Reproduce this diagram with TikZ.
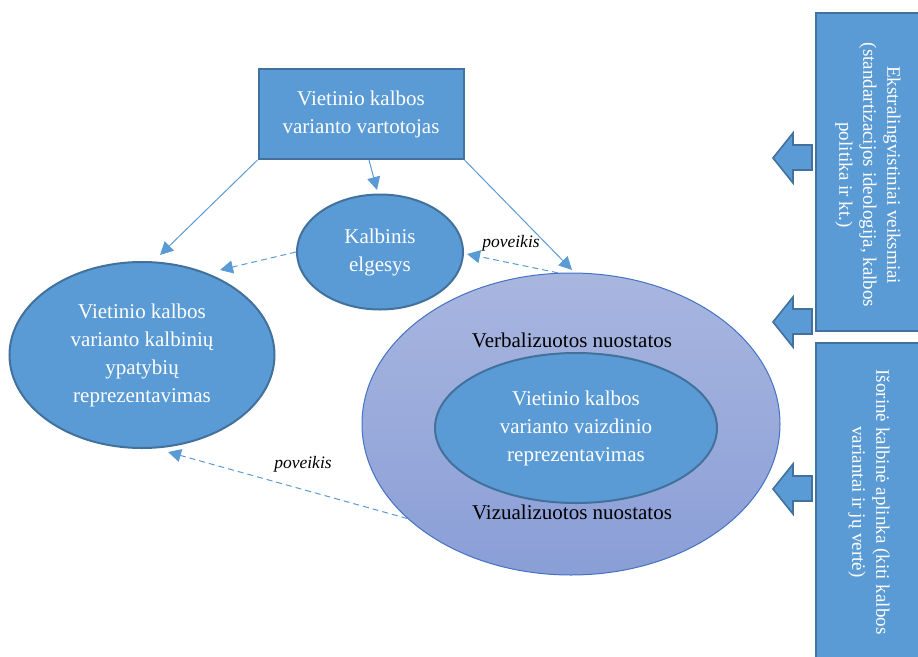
\documentclass[tikz,border=0pt]{standalone}
\usepackage{fontspec}
\setmainfont{Liberation Serif}
\usetikzlibrary{arrows.meta,shapes.geometric}
\definecolor{boxblue}{HTML}{5B9BD5}
\definecolor{boxedge}{HTML}{41719C}
\definecolor{linkblue}{HTML}{5B9BD5}
\definecolor{haloTop}{HTML}{A8B6DF}
\definecolor{haloBot}{HTML}{8A9ED7}
\definecolor{haloEdge}{HTML}{4472C4}
\tikzset{
  bluebox/.style={draw=boxedge, line width=2pt, fill=boxblue, text=white,
    font=\fontsize{21}{28}\selectfont, align=center},
  blueoval/.style={bluebox, ellipse, inner sep=0pt},
  link/.style={draw=linkblue, line width=1pt, -{Triangle[length=13pt,width=13pt]}},
  dlink/.style={link, dash pattern=on 6pt off 4pt},
  effect/.style={font=\fontsize{17.5}{20}\selectfont\itshape},
  layer/.style={font=\fontsize{21}{26}\selectfont},
  sidetext/.style={text=white, font=\fontsize{19}{24}\selectfont, align=center, rotate=-90},
  blockarrow/.style={draw=boxedge, line width=1.6pt, fill=boxblue, line join=miter}
}
\begin{document}
\begin{tikzpicture}[x=1pt,y=-1pt]
\useasboundingbox (0,0) rectangle (918,656);

% side panels with external factors (run past the right edge)
\begin{scope}
\clip (0,0) rectangle (918,656);
\node[bluebox, minimum width=106pt, minimum height=318pt, anchor=north west] (extra) at (815,12) {};
\node[sidetext] at (868,175) {Ekstralingvistiniai veiksmiai\\(standartizacijos ideologija, kalbos\\politika ir kt.)};
\node[bluebox, minimum width=106pt, minimum height=322pt, anchor=north west] (outer) at (815,342) {};
\node[sidetext] at (869,502) {Išorinė kalbinė aplinka (kiti kalbos\\variantai ir jų vertė)};
\end{scope}

% block arrows pointing left out of the panels
\foreach \yc/\nm in {158/a1, 322/a2, 489/a3}{
  \coordinate (\nm) at (773,\yc);
  \draw[blockarrow] (\nm) -- ++(20,-25) -- ++(0,12) -- ++(19,0) -- ++(0,25)
    -- ++(-19,0) -- ++(0,13) -- cycle;
}

% user of the local variety
\node[bluebox, minimum width=205pt, minimum height=90pt] (user) at (361,114)
  {Vietinio kalbos\\varianto vartotojas};

% language behaviour
\node[blueoval, minimum width=166pt, minimum height=115pt] (behav) at (380,252)
  {Kalbinis\\elgesys};

% representation of linguistic features
\node[blueoval, minimum width=265pt, minimum height=186pt] (ling) at (142,355)
  {Vietinio kalbos\\varianto kalbinių\\ypatybių\\reprezentavimas};

% attitudes ellipse with gradient
\node[ellipse, draw=haloEdge, line width=1pt, top color=haloTop, bottom color=haloBot,
  minimum width=418pt, minimum height=302pt, inner sep=0pt] (att) at (571,424) {};
\node[blueoval, minimum width=282pt, minimum height=150pt] (image) at (576,428)
  {Vietinio kalbos\\varianto vaizdinio\\reprezentavimas};
\node[layer] (verb) at (572,340) {Verbalizuotos nuostatos};
\node[layer] (viz) at (572,512) {Vizualizuotos nuostatos};

% connectors
\draw[link] (user.south west) -- (160,255);
\draw[link] (369,160) -- (377,190);
\draw[link] (user.south east) -- (572,270);
\draw[dlink] (behav.west) -- (220,270);
\draw[dlink] (att.95) -- (467,254);
\draw[dlink] (att.210) -- (168,452);

\node[effect] (p1) at (511,243) {poveikis};
\node[effect] (p2) at (303,464) {poveikis};
\end{tikzpicture}
\end{document}
